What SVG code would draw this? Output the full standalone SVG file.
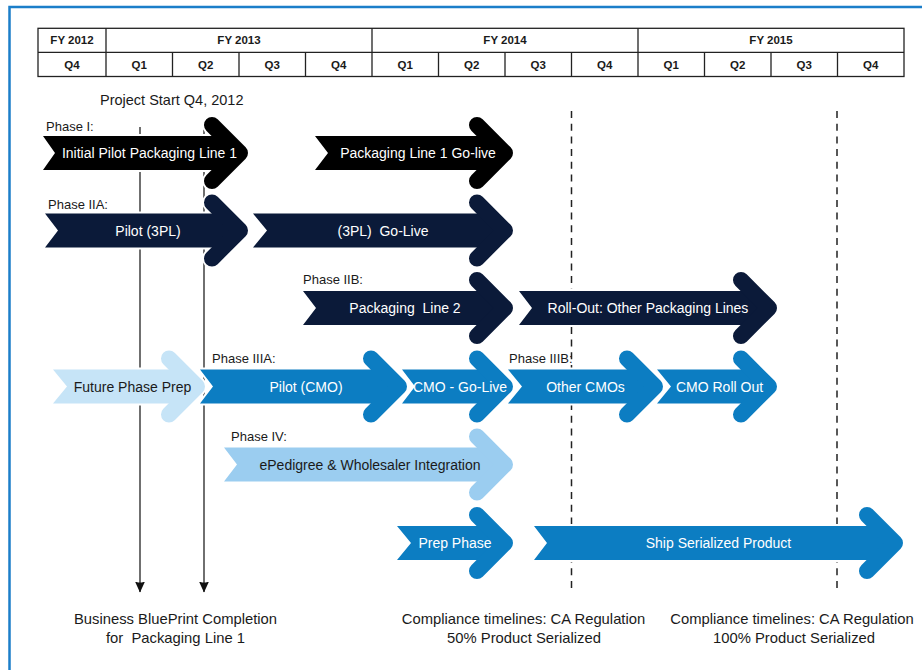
<svg xmlns="http://www.w3.org/2000/svg" width="922" height="670" viewBox="0 0 922 670">
<defs>
<style>
text{font-family:"Liberation Sans",Arial,sans-serif;fill:#1a1a1a}
.hd{font-size:11.5px;font-weight:bold;text-anchor:middle}
.grid{stroke:#222;stroke-width:1.3;fill:none}
.lbl{font-size:13px}
.big{font-size:14.5px}
.bot{font-size:14.8px;text-anchor:middle}
.at{font-size:14px;text-anchor:middle;fill:#fff;white-space:pre}
.at.dk{fill:#1a1a1a}
.ob{fill:#fff;stroke:#fff;stroke-width:4;stroke-linejoin:round}
.oh{fill:none;stroke:#fff;stroke-width:20;stroke-linecap:round;stroke-linejoin:round}
.h{fill:none;stroke-width:16;stroke-linecap:round;stroke-linejoin:round}
.blk .b{fill:#000}.blk .h{stroke:#000}
.nav .b{fill:#0b1a39}.nav .h{stroke:#0b1a39}
.mid .b{fill:#0c7dc2}.mid .h{stroke:#0c7dc2}
.pale .b{fill:#c6e4f7}.pale .h{stroke:#c6e4f7}
.lt .b{fill:#9bcdf0}.lt .h{stroke:#9bcdf0}
.vl{stroke:#222;stroke-width:1.3;fill:none}
.dl{stroke:#222;stroke-width:1.5;fill:none;stroke-dasharray:7 5.7}
</style>
<marker id="ah" viewBox="0 0 11 10" refX="10.5" refY="5" markerWidth="11" markerHeight="10" markerUnits="userSpaceOnUse" orient="auto">
<path d="M0,0 L11,5 L0,10 Q2,5 0,0 Z" fill="#111"/>
</marker>
</defs>
<rect x="9.5" y="7" width="1000" height="1000" fill="#fff" stroke="#1b7ec9" stroke-width="2.5"/>

<g id="timeline-header">
<rect class="grid" x="38" y="28.3" width="866" height="48.2"/>
<line class="grid" x1="38" y1="52.3" x2="904" y2="52.3"/>
<path class="grid" d="M106,28.3V76.5M372,28.3V76.5M638,28.3V76.5M172.5,52.3V76.5M239,52.3V76.5M305.5,52.3V76.5M438.5,52.3V76.5M505,52.3V76.5M571.5,52.3V76.5M704.5,52.3V76.5M771,52.3V76.5M837.5,52.3V76.5"/>
<text class="hd" x="72" y="44">FY 2012</text>
<text class="hd" x="239" y="44">FY 2013</text>
<text class="hd" x="505" y="44">FY 2014</text>
<text class="hd" x="771" y="44">FY 2015</text>
<text class="hd" x="72" y="68.5">Q4</text>
<text class="hd" x="139.25" y="68.5">Q1</text>
<text class="hd" x="205.75" y="68.5">Q2</text>
<text class="hd" x="272.25" y="68.5">Q3</text>
<text class="hd" x="338.75" y="68.5">Q4</text>
<text class="hd" x="405.25" y="68.5">Q1</text>
<text class="hd" x="471.75" y="68.5">Q2</text>
<text class="hd" x="538.25" y="68.5">Q3</text>
<text class="hd" x="604.75" y="68.5">Q4</text>
<text class="hd" x="671.25" y="68.5">Q1</text>
<text class="hd" x="737.75" y="68.5">Q2</text>
<text class="hd" x="804.25" y="68.5">Q3</text>
<text class="hd" x="870.75" y="68.5">Q4</text>
</g>

<g id="connectors">
<line class="vl" x1="140" y1="127" x2="140" y2="592" marker-end="url(#ah)"/>
<line class="vl" x1="204" y1="127" x2="204" y2="592" marker-end="url(#ah)"/>
<line class="dl" x1="571.5" y1="111" x2="571.5" y2="593"/>
<line class="dl" x1="837" y1="111" x2="837" y2="593"/>
</g>

<g id="labels">
<text class="big" x="100" y="105">Project Start Q4, 2012</text>
<text class="lbl" x="46" y="130.5">Phase I:</text>
<text class="lbl" x="48" y="208.5">Phase IIA:</text>
<text class="lbl" x="303" y="283.5">Phase IIB:</text>
<text class="lbl" x="212" y="362.5">Phase IIIA:</text>
<text class="lbl" x="509" y="362.5">Phase IIIB:</text>
<text class="lbl" x="231" y="440.5">Phase IV:</text>
</g>

<g id="initial-pilot" class="blk">
<path class="ob" d="M43,136L233,136L233,170L43,170L55,153Z"/><polyline class="oh" points="212,125 240,153 212,181"/>
<path class="b" d="M43,136L233,136L233,170L43,170L55,153Z"/><polyline class="h" points="212,125 240,153 212,181"/>
<text class="at" x="149.5" y="158">Initial Pilot Packaging Line 1</text>
</g>
<g id="line1-golive" class="blk">
<path class="ob" d="M315,136L498,136L498,170L315,170L328,153Z"/><polyline class="oh" points="477,125 505,153 477,181"/>
<path class="b" d="M315,136L498,136L498,170L315,170L328,153Z"/><polyline class="h" points="477,125 505,153 477,181"/>
<text class="at" x="418" y="158">Packaging Line 1 Go-live</text>
</g>

<g id="pilot-3pl" class="nav">
<path class="ob" d="M45,213.5L233,213.5L233,247.5L45,247.5L58,230.5Z"/><polyline class="oh" points="212,202.5 240,230.5 212,258.5"/>
<path class="b" d="M45,213.5L233,213.5L233,247.5L45,247.5L58,230.5Z"/><polyline class="h" points="212,202.5 240,230.5 212,258.5"/>
<text class="at" x="148" y="235.5">Pilot (3PL)</text>
</g>
<g id="golive-3pl" class="nav">
<path class="ob" d="M253,213.5L498,213.5L498,247.5L253,247.5L267,230.5Z"/><polyline class="oh" points="477,202.5 505,230.5 477,258.5"/>
<path class="b" d="M253,213.5L498,213.5L498,247.5L253,247.5L267,230.5Z"/><polyline class="h" points="477,202.5 505,230.5 477,258.5"/>
<text class="at" x="383" y="235.5">(3PL)  Go-Live</text>
</g>

<g id="packaging-line2" class="nav">
<path class="ob" d="M303,291L498,291L498,325L303,325L316,308Z"/><polyline class="oh" points="477,280 505,308 477,336"/>
<path class="b" d="M303,291L498,291L498,325L303,325L316,308Z"/><polyline class="h" points="477,280 505,308 477,336"/>
<text class="at" x="405" y="313">Packaging  Line 2</text>
</g>
<g id="rollout-lines" class="nav">
<path class="ob" d="M519,291L762,291L762,325L519,325L532,308Z"/><polyline class="oh" points="741,280 769,308 741,336"/>
<path class="b" d="M519,291L762,291L762,325L519,325L532,308Z"/><polyline class="h" points="741,280 769,308 741,336"/>
<text class="at" x="648" y="313">Roll-Out: Other Packaging Lines</text>
</g>

<g id="future-prep" class="pale">
<path class="ob" d="M53,369.5L190,369.5L190,403.5L53,403.5L67,386.5Z"/><polyline class="oh" points="169,358.5 197,386.5 169,414.5"/>
<path class="b" d="M53,369.5L190,369.5L190,403.5L53,403.5L67,386.5Z"/><polyline class="h" points="169,358.5 197,386.5 169,414.5"/>
<text class="at dk" x="132.5" y="391.5">Future Phase Prep</text>
</g>
<g id="pilot-cmo" class="mid">
<path class="ob" d="M200,369.5L392,369.5L392,403.5L200,403.5L213,386.5Z"/><polyline class="oh" points="371,358.5 399,386.5 371,414.5"/>
<path class="b" d="M200,369.5L392,369.5L392,403.5L200,403.5L213,386.5Z"/><polyline class="h" points="371,358.5 399,386.5 371,414.5"/>
<text class="at" x="306" y="391.5">Pilot (CMO)</text>
</g>
<g id="cmo-golive" class="mid">
<path class="ob" d="M402,369.5L498,369.5L498,403.5L402,403.5L415,386.5Z"/><polyline class="oh" points="477,358.5 505,386.5 477,414.5"/>
<path class="b" d="M402,369.5L498,369.5L498,403.5L402,403.5L415,386.5Z"/><polyline class="h" points="477,358.5 505,386.5 477,414.5"/>
<text class="at" x="460" y="391.5">CMO - Go-Live</text>
</g>
<g id="other-cmos" class="mid">
<path class="ob" d="M508,369.5L648,369.5L648,403.5L508,403.5L522,386.5Z"/><polyline class="oh" points="627,358.5 655,386.5 627,414.5"/>
<path class="b" d="M508,369.5L648,369.5L648,403.5L508,403.5L522,386.5Z"/><polyline class="h" points="627,358.5 655,386.5 627,414.5"/>
<text class="at" x="585.5" y="391.5">Other CMOs</text>
</g>
<g id="cmo-rollout" class="mid">
<path class="ob" d="M657,369.5L762,369.5L762,403.5L657,403.5L671,386.5Z"/><polyline class="oh" points="741,358.5 769,386.5 741,414.5"/>
<path class="b" d="M657,369.5L762,369.5L762,403.5L657,403.5L671,386.5Z"/><polyline class="h" points="741,358.5 769,386.5 741,414.5"/>
<text class="at" x="719.5" y="391.5">CMO Roll Out</text>
</g>

<g id="epedigree" class="lt">
<path class="ob" d="M224,447.5L498,447.5L498,481.5L224,481.5L237,464.5Z"/><polyline class="oh" points="477,436.5 505,464.5 477,492.5"/>
<path class="b" d="M224,447.5L498,447.5L498,481.5L224,481.5L237,464.5Z"/><polyline class="h" points="477,436.5 505,464.5 477,492.5"/>
<text class="at dk" x="370" y="469.5">ePedigree &amp; Wholesaler Integration</text>
</g>

<g id="prep-phase" class="mid">
<path class="ob" d="M397,526L498,526L498,560L397,560L411,543Z"/><polyline class="oh" points="477,515 505,543 477,571"/>
<path class="b" d="M397,526L498,526L498,560L397,560L411,543Z"/><polyline class="h" points="477,515 505,543 477,571"/>
<text class="at" x="455" y="548">Prep Phase</text>
</g>
<g id="ship-serialized" class="mid">
<path class="ob" d="M534,526L888,526L888,560L534,560L547,543Z"/><polyline class="oh" points="867,515 895,543 867,571"/>
<path class="b" d="M534,526L888,526L888,560L534,560L547,543Z"/><polyline class="h" points="867,515 895,543 867,571"/>
<text class="at" x="718.5" y="548">Ship Serialized Product</text>
</g>

<g id="milestones">
<text class="bot" x="175.5" y="624" style="white-space:pre">Business BluePrint Completion</text>
<text class="bot" x="175.5" y="643" style="white-space:pre">for  Packaging Line 1</text>
<text class="bot" x="523.5" y="624">Compliance timelines: CA Regulation</text>
<text class="bot" x="524" y="643">50% Product Serialized</text>
<text class="bot" x="792" y="624">Compliance timelines: CA Regulation</text>
<text class="bot" x="794" y="643">100% Product Serialized</text>
</g>
</svg>
